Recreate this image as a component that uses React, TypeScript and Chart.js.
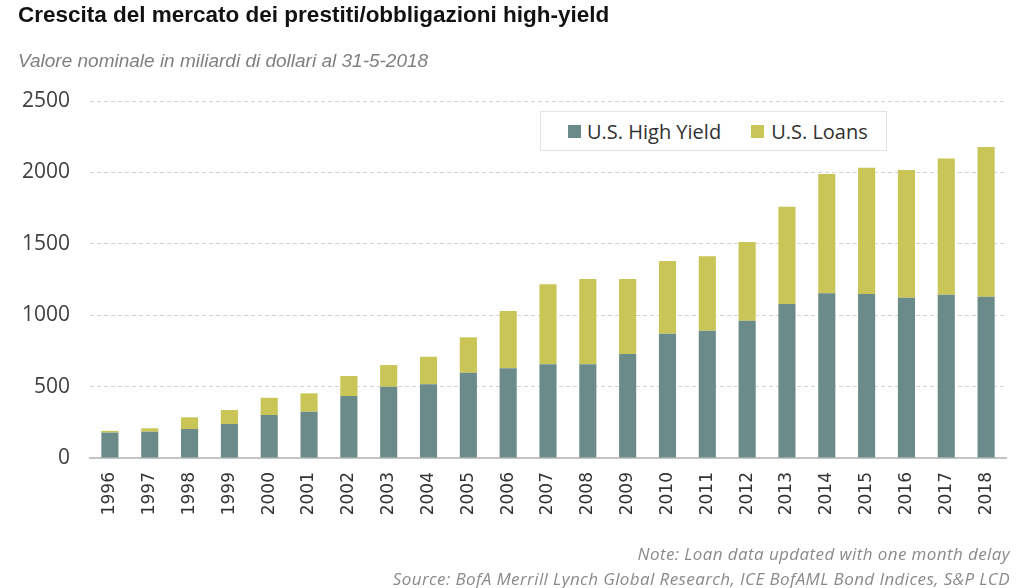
import React, { useEffect, useRef } from "react";
import { Chart, registerables } from "chart.js";

Chart.register(...registerables);

const years = ["1996","1997","1998","1999","2000","2001","2002","2003","2004","2005","2006","2007","2008","2009","2010","2011","2012","2013","2014","2015","2016","2017","2018"];
const highYield = [178,184,203,238,301,324,434,499,516,597,628,656,656,728,870,891,961,1078,1153,1148,1122,1143,1129];
const loans = [12,24,82,98,121,129,140,152,193,248,401,560,597,525,509,521,551,681,835,884,894,955,1048];
const yTicks = [0,500,1000,1500,2000,2500];

const seriesNames = ["U.S. High Yield", "U.S. Loans"];
const seriesColors = ["#6b8b8a", "#c9c657"];

const titleText = "Crescita del mercato dei prestiti/obbligazioni high-yield";
const subtitleText = "Valore nominale in miliardi di dollari al 31-5-2018";
const noteText = "Note: Loan data updated with one month delay";
const sourceText = "Source: BofA Merrill Lynch Global Research, ICE BofAML Bond Indices, S&P LCD";

export default function App() {
  const ref = useRef<HTMLCanvasElement | null>(null);
  useEffect(() => {
    document.body.style.margin = "0";
    const ctx = ref.current!;
    const chart = new Chart(ctx, {
      type: "bar",
      data: {
        labels: years,
        datasets: [
          { label: seriesNames[0], data: highYield, backgroundColor: seriesColors[0], barPercentage: 0.43, categoryPercentage: 1 },
          { label: seriesNames[1], data: loans, backgroundColor: seriesColors[1], barPercentage: 0.43, categoryPercentage: 1 },
        ],
      },
      options: {
        animation: false,
        responsive: false,
        maintainAspectRatio: false,
        layout: { padding: { top: 101, left: 0, right: 18, bottom: 0 } },
        plugins: { legend: { display: false }, tooltip: { enabled: false }, title: { display: false } },
        scales: {
          x: {
            stacked: true,
            afterFit: (s: any) => { s.height = 130; },
            grid: { display: false, drawTicks: false },
            border: { display: true, color: "#c4c4c4", width: 2 },
            ticks: {
              minRotation: 90, maxRotation: 90, autoSkip: false, padding: 14,
              color: "#333333",
              font: { family: "'DejaVu Sans', Verdana, sans-serif", size: 17 },
            },
          },
          y: {
            stacked: true,
            min: 0, max: 2500,
            afterFit: (s: any) => { s.width = 90; },
            afterBuildTicks: (s: any) => { s.ticks = yTicks.map((v) => ({ value: v })); },
            grid: { color: "#d4d4d4", drawTicks: false, lineWidth: 1 },
            border: { display: false, dash: [4, 3] },
            ticks: {
              padding: 20,
              color: "#404040",
              font: { family: "'Open Sans', sans-serif", size: 21 },
              callback: (v: any) => String(v),
            },
          },
        },
      },
    } as any);
    return () => chart.destroy();
  }, []);

  return (
    <div style={{ position: "fixed", left: 0, top: 0, width: 1024, height: 588, background: "#fff", overflow: "hidden" }}>
      <canvas ref={ref} width={1024} height={588} style={{ position: "absolute", left: 0, top: 0, width: 1024, height: 588 }} />
      <div style={{ position: "absolute", left: 18, top: 2, fontFamily: "'Liberation Sans', Arial, sans-serif", fontWeight: "bold", fontSize: 22.5, color: "#111", whiteSpace: "nowrap" }}>{titleText}</div>
      <div style={{ position: "absolute", left: 18, top: 50, fontFamily: "'Liberation Sans', Arial, sans-serif", fontStyle: "italic", fontSize: 19, color: "#808080", whiteSpace: "nowrap" }}>{subtitleText}</div>
      <div style={{ position: "absolute", left: 540, top: 111, width: 345, height: 38, border: "1px solid #e2e2e2", background: "#fff", display: "flex", alignItems: "center", fontFamily: "'Open Sans', sans-serif", fontSize: 20, color: "#303030", boxSizing: "content-box" }}>
        <div style={{ display: "flex", alignItems: "center", marginLeft: 27 }}>
          <span style={{ display: "inline-block", width: 13, height: 13, background: seriesColors[0], marginRight: 6 }} />
          <span>{seriesNames[0]}</span>
        </div>
        <div style={{ display: "flex", alignItems: "center", marginLeft: 30 }}>
          <span style={{ display: "inline-block", width: 13, height: 13, background: seriesColors[1], marginRight: 7 }} />
          <span>{seriesNames[1]}</span>
        </div>
      </div>
      <div style={{ position: "absolute", right: 14, top: 541, textAlign: "right", fontFamily: "'Open Sans', sans-serif", fontStyle: "italic", fontSize: 17, letterSpacing: "0.4px", color: "#8a8a8a", lineHeight: "25px", whiteSpace: "nowrap" }}>
        <div>{noteText}</div>
        <div>{sourceText}</div>
      </div>
    </div>
  );
}
